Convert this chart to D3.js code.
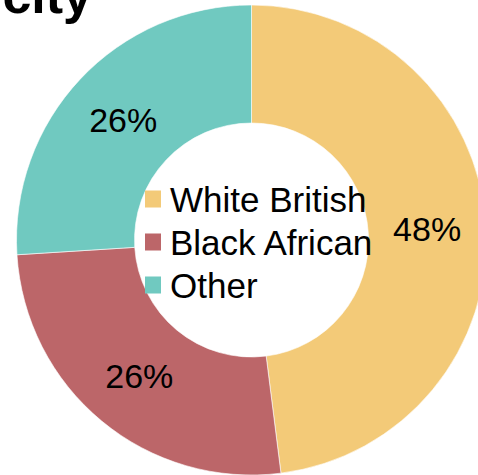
<!DOCTYPE html>
<html>
<head>
<meta charset="utf-8">
<script src="https://cdn.jsdelivr.net/npm/d3@7"></script>
<style>
  html, body { margin: 0; padding: 0; background: #fff; }
  svg { display: block; }
  text { font-family: "Liberation Sans", Arial, sans-serif; }
</style>
</head>
<body>
<svg id="chart" width="478" height="475"></svg>
<script>
// Ethnicity breakdown (percent of total)
const categories = ["White British", "Black African", "Other"];
const shares = [48, 26, 26];
const colors = ["#F3CA78", "#BC6669", "#70C9C0"];
const titleText = "Ethnicity";

const W = 478, H = 475;
const cx = 251.5, cy = 240;
const outerR = 235, innerR = 117;

const svg = d3.select("#chart");

// Title (sits mostly above the visible area)
svg.append("text")
  .attr("x", 92)
  .attr("y", 13)
  .attr("text-anchor", "end")
  .attr("font-size", 52)
  .attr("font-weight", "bold")
  .attr("fill", "#000")
  .text(titleText);

const data = categories.map((c, i) => ({ name: c, value: shares[i], color: colors[i] }));

const pie = d3.pie().value(d => d.value).sort(null);
const arc = d3.arc().innerRadius(innerR).outerRadius(outerR);

const g = svg.append("g").attr("transform", `translate(${cx},${cy})`);
const arcs = pie(data);

g.selectAll("path.slice")
  .data(arcs)
  .enter().append("path")
  .attr("class", "slice")
  .attr("d", arc)
  .attr("fill", d => d.data.color)
  .attr("stroke", "#fff")
  .attr("stroke-width", 0.6);

g.selectAll("text.pct")
  .data(arcs)
  .enter().append("text")
  .attr("class", "pct")
  .attr("transform", d => `translate(${arc.centroid(d)})`)
  .attr("dy", "0.36em")
  .attr("text-anchor", "middle")
  .attr("font-size", 34)
  .attr("fill", "#000")
  .text(d => d.data.value + "%");

// Legend inside the hole
const legendY = d3.scalePoint().domain(categories).range([199, 285]);
const legend = svg.append("g");
const rows = legend.selectAll("g.row")
  .data(data)
  .enter().append("g")
  .attr("class", "row")
  .attr("transform", d => `translate(0,${legendY(d.name)})`);

rows.append("rect")
  .attr("x", 145)
  .attr("y", -8.5)
  .attr("width", 16)
  .attr("height", 17)
  .attr("fill", d => d.color);

rows.append("text")
  .attr("x", 170)
  .attr("y", 13)
  .attr("font-size", 35)
  .attr("fill", "#000")
  .text(d => d.name);
</script>
</body>
</html>
